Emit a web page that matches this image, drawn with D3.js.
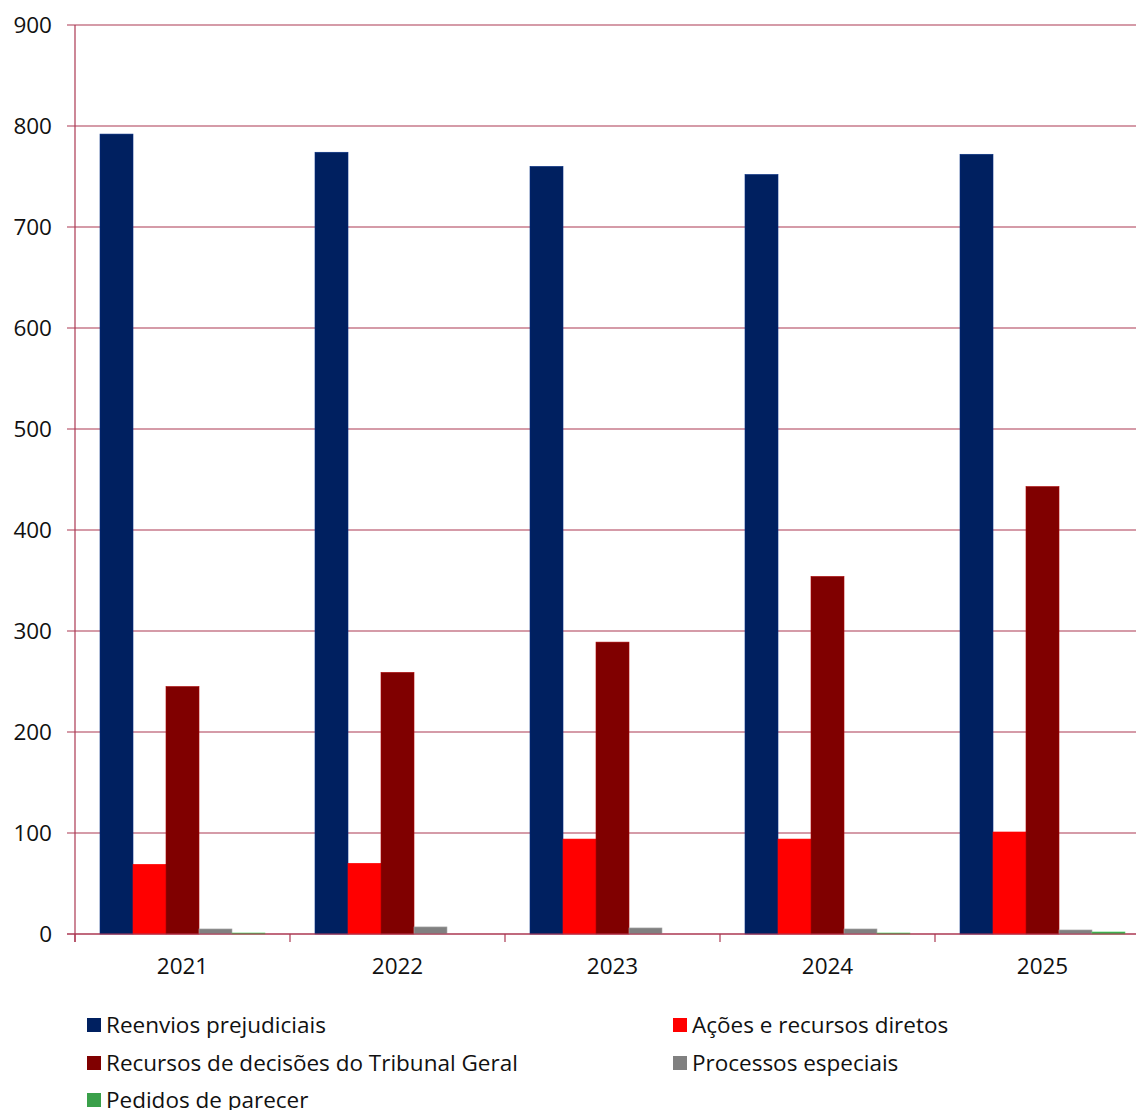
<!DOCTYPE html>
<html><head><meta charset="utf-8">
<script src="https://cdn.jsdelivr.net/npm/d3@7"></script>
<style>body{margin:0;background:#fff}svg{display:block;font-family:"Open Sans",sans-serif}</style>
</head><body>
<script>
const years = ["2021","2022","2023","2024","2025"];
const seriesNames = ["Reenvios prejudiciais","Ações e recursos diretos","Recursos de decisões do Tribunal Geral","Processos especiais","Pedidos de parecer"];
const seriesColors = ["#002060","#ff0000","#800000","#808080","#3aa04a"];
const reenvios = [792, 774, 760, 752, 772];
const acoes = [69, 70, 94, 94, 101];
const recursos = [245, 259, 289, 354, 443];
const especiais = [5, 7, 6, 5, 4];
const pareceres = [1, 0, 0, 1, 2];
const yTicks = [0,100,200,300,400,500,600,700,800,900];

const seriesValues = [reenvios, acoes, recursos, especiais, pareceres];
const W = 1136, H = 1110;
const svg = d3.select("body").append("svg").attr("width", W).attr("height", H);
const left = 75, bandW = 215;
const x = d3.scaleBand().domain(years).range([left, left + bandW*years.length]).paddingInner(50/215).paddingOuter(25/215);
const xs = d3.scaleBand().domain(seriesNames).range([0, x.bandwidth()]);
const y = d3.scaleLinear().domain([0,900]).range([934, 25]);
const gridColor = "#ab3852";

svg.append("g").selectAll("line").data(yTicks).join("line")
  .attr("x1", 67).attr("x2", W).attr("y1", d=>y(d)).attr("y2", d=>y(d))
  .attr("stroke", gridColor).attr("stroke-width", 1.2);
svg.append("g").selectAll("text").data(yTicks).join("text")
  .attr("x", 52).attr("y", d=>y(d)).attr("dy","0.36em").attr("text-anchor","end")
  .attr("font-size", 22.5).attr("fill","#111").text(d=>d);
svg.append("line").attr("x1",left).attr("x2",left).attr("y1",y(900)).attr("y2",942)
  .attr("stroke",gridColor).attr("stroke-width",1.2);
const g = svg.append("g");
years.forEach((yr, i) => {
  seriesNames.forEach((s, j) => {
    const v = seriesValues[j][i];
    g.append("rect").attr("x", x(yr) + xs(s)).attr("width", xs.bandwidth())
      .attr("y", y(v)).attr("height", y(0) - y(v)).attr("fill", seriesColors[j])
      .attr("stroke", d3.color(seriesColors[j]).brighter(0.8)).attr("stroke-width", 0.6);
  });
});
svg.append("line").attr("x1",67).attr("x2",W).attr("y1",y(0)).attr("y2",y(0))
  .attr("stroke",gridColor).attr("stroke-width",1.2);
const tickXs = d3.range(years.length+1).map(i => left + i*bandW);
svg.append("g").selectAll("line").data(tickXs).join("line")
  .attr("x1",d=>d).attr("x2",d=>d).attr("y1",y(0)).attr("y2",942)
  .attr("stroke",gridColor).attr("stroke-width",1.2);
svg.append("g").selectAll("text").data(years).join("text")
  .attr("x", d=>x(d)+x.bandwidth()/2).attr("y", 966).attr("dy","0.36em")
  .attr("text-anchor","middle").attr("font-size",22.5).attr("fill","#111").text(d=>d);
const legPos = [[87,1025],[673,1025],[87,1063],[673,1063],[87,1100]];
seriesNames.forEach((s,j) => {
  const [lx, ly] = legPos[j];
  svg.append("rect").attr("x",lx).attr("y",ly-7).attr("width",14).attr("height",14).attr("fill",seriesColors[j]);
  svg.append("text").attr("x",lx+19).attr("y",ly).attr("dy","0.36em").attr("font-size",22.5)
    .attr("fill","#111").text(s);
});
</script>
</body></html>
